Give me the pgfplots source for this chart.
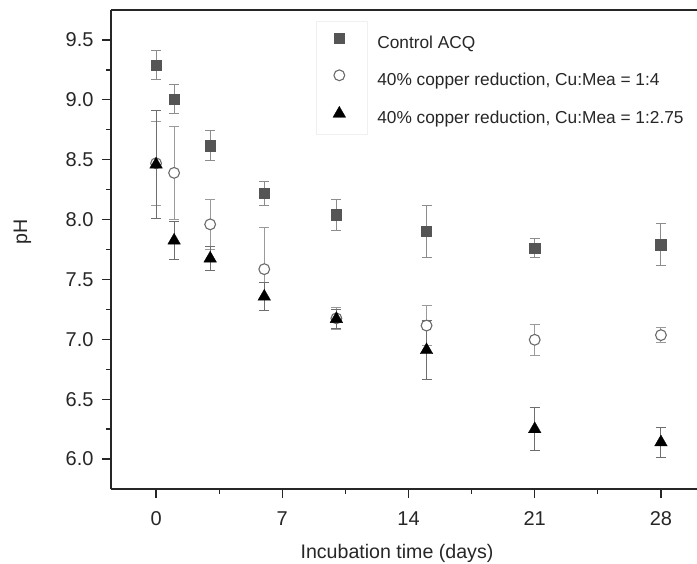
\documentclass[border=0pt]{standalone}
\usepackage{fontspec}
\setmainfont{Liberation Sans}
\usepackage{pgfplots}
\usepackage{pgfplotstable}
\pgfplotsset{compat=1.18}
\definecolor{sqc}{HTML}{555555}
\definecolor{circc}{HTML}{6A6A6A}
\definecolor{ebA}{HTML}{8C8C8C}
\definecolor{ebB}{HTML}{9A9A9A}
\definecolor{ebC}{HTML}{6E6E6E}
\pgfplotstableread{
x y e
0 9.29 0.12
1 9.005 0.12
3 8.615 0.125
6 8.22 0.10
10 8.04 0.13
15 7.90 0.215
21 7.76 0.08
28 7.79 0.175
}\ctrl
\pgfplotstableread{
x y e
0 8.47 0.35
1 8.39 0.39
3 7.96 0.21
6 7.586 0.345
10 7.175 0.09
15 7.115 0.165
21 6.996 0.13
28 7.035 0.06
}\cufour
\pgfplotstableread{
x y e
0 8.46 0.45
1 7.825 0.16
3 7.675 0.10
6 7.357 0.12
10 7.17 0.08
15 6.91 0.245
21 6.25 0.18
28 6.14 0.125
}\cuthree
\begin{document}
\begin{tikzpicture}
\useasboundingbox (-111pt,-74pt) rectangle (586pt,489pt);
\begin{axis}[
  scale only axis,
  width=586pt, height=479pt,
  xmin=-2.5, xmax=30, ymin=5.75, ymax=9.75,
  axis x line*=bottom, axis y line*=left,
  axis line style={-, line width=1.5pt, black!85},
  every tick/.style={black!85, line width=1.3pt},
  tick align=outside,
  major tick length=9pt, minor tick length=4.5pt,
  xtick={0,7,14,21,28}, minor x tick num=1,
  ytick={6,6.5,7,7.5,8,8.5,9,9.5}, minor y tick num=1,
  /pgf/number format/assume math mode=true,
  yticklabel style={/pgf/number format/fixed, /pgf/number format/fixed zerofill, /pgf/number format/precision=1, xshift=-5pt},
  ticklabel style={font=\fontsize{20}{24}\selectfont, text=black!85},
  xticklabel style={yshift=-10pt},
  xlabel={Incubation time (days)},
  ylabel={pH},
  label style={font=\fontsize{19.6}{23}\selectfont, text=black!85},
  xlabel style={at={(axis description cs:0.488,0)}, anchor=base, yshift=-69pt},
  ylabel style={at={(axis description cs:-0.151,0.5365)}, anchor=center},
  clip=false,
  legend cell align=left,
  legend image code/.code={\draw[#1] plot coordinates {(0pt,6pt)}; \path[draw=none,fill=none] (-6pt,0pt) rectangle (38pt,12pt);},
  legend style={draw=none, fill=none, inner sep=0pt, outer sep=0pt,
    at={(rel axis cs:0,1)}, anchor=north west, xshift=222pt, yshift=-22.3pt,
    row sep=17pt, column sep=0pt,
    font=\fontsize{17.3}{20}\selectfont, text=black!85,
    nodes={inner sep=0pt, text height=12pt, text depth=4pt}},
]
\draw[black!85, line width=1.5pt] (rel axis cs:0,1) -- (rel axis cs:1,1);
\draw[black!6, line width=0.6pt] ([xshift=205pt,yshift=-11.7pt]rel axis cs:0,1) rectangle ([xshift=256pt,yshift=-124pt]rel axis cs:0,1);
\addplot[only marks, mark=square*, mark size=5.2pt, mark options={fill=sqc, draw=sqc, line width=0.5pt},
  error bars/.cd, y dir=both, y explicit,
  error bar style={ebA, line width=1pt},
  error mark options={rotate=90, mark size=5pt, ebA, line width=1pt}]
  table[x=x, y=y, y error=e] {\ctrl};
\addlegendentry{Control ACQ}
\addplot[only marks, mark=*, mark size=5.4pt, mark options={fill=white, draw=circc, line width=1.1pt},
  error bars/.cd, y dir=both, y explicit,
  error bar style={ebB, line width=1pt},
  error mark options={rotate=90, mark size=5pt, ebB, line width=1pt}]
  table[x=x, y=y, y error=e] {\cufour};
\addlegendentry{40\% copper reduction, Cu:Mea = 1:4}
\addplot[only marks, mark=triangle*, mark size=7.3pt, mark options={fill=black, draw=black, line width=0.3pt},
  error bars/.cd, y dir=both, y explicit,
  error bar style={ebC, line width=1pt},
  error mark options={rotate=90, mark size=5pt, ebC, line width=1pt}]
  table[x=x, y=y, y error=e] {\cuthree};
\addlegendentry{40\% copper reduction, Cu:Mea = 1:2.75}
\end{axis}
\end{tikzpicture}
\end{document}
